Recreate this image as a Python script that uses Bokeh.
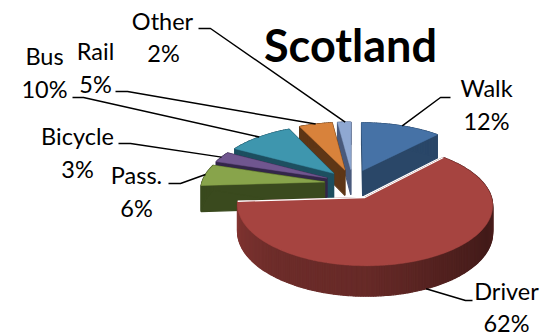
import math
from bokeh.core.properties import value
from bokeh.embed import file_html
from bokeh.models import ColumnDataSource
from bokeh.plotting import figure
from bokeh.resources import INLINE

# Travel-to-work mode shares, clockwise from twelve o'clock
modes = ["Walk", "Driver", "Pass.", "Bicycle", "Bus", "Rail", "Other"]
shares = [12, 62, 6, 3, 10, 5, 2]

# Colours for the top faces and the cut faces of each slice
top_colours = ["#4672A6", "#A64440", "#88A44B", "#70568F", "#3E96AE", "#D8823B", "#8FA8D2"]
side_colours = ["#2A4768", "#5E2825", "#3A4A1E", "#33264A", "#1D4F60", "#5E3616", "#4A5A7C"]

# Label centres (name, then percentage)
name_xy = [(486, 87), (506, 290), (136, 174), (77, 135), (44, 55), (95, 50), (162, 20)]
pct_xy = [(486, 120), (506, 322), (136, 207), (77, 168), (44, 88), (95, 83), (163, 52)]
# Leader lines: outer tip and elbow, the inner end lands on the slice's arc
leader_out = [(450, 97), (472, 300), (168, 183), (118, 143), (72, 97), (115, 91), (198, 28)]
leader_elbow = [(440, 97), (465, 300), (180, 183), (130, 143), (83, 97), (127, 91), (210, 28)]

# Rim lighting of the large slice: angle (degrees) and brightness factor
rim_angles = [43, 90, 115, 140, 180, 220, 267]
rim_light = [0.50, 0.50, 0.40, 0.47, 0.62, 0.66, 0.80]

# Projection of the exploded pie
CX, CY = 352, 183.3
RX, RY = 123, 56.5
PERSPECTIVE = 0.12
EXPLODE_X = 0.23
EXPLODE_Y = 0.26
DEPTH = 26


def project(x, y, drop=0.0):
    w = 1 + PERSPECTIVE * y
    return CX + RX * x / w, CY - RY * y / w + DEPTH * drop / w


def mix(c, f):
    r, g, b = (int(c[i:i + 2], 16) for i in (1, 3, 5))
    return "#%02x%02x%02x" % (int(r * f), int(g * f), int(b * f))


def rim_shade(angle):
    for k in range(len(rim_angles) - 1):
        if rim_angles[k] <= angle <= rim_angles[k + 1]:
            f = (angle - rim_angles[k]) / (rim_angles[k + 1] - rim_angles[k])
            return rim_light[k] + f * (rim_light[k + 1] - rim_light[k])
    return rim_light[-1]


spans = []
start = 0.0
for s in shares:
    spans.append((start, start + s * 3.6))
    start += s * 3.6


def slice_geometry(a0, a1):
    mid = math.radians((a0 + a1) / 2)
    ox, oy = EXPLODE_X * math.sin(mid), EXPLODE_Y * math.cos(mid)
    steps = max(3, int(a1 - a0))
    arc = [a0 + (a1 - a0) * i / steps for i in range(steps + 1)]
    rim = [(ox + math.sin(math.radians(t)), oy + math.cos(math.radians(t))) for t in arc]
    return (ox, oy), rim, arc


p = figure(width=541, height=335, x_range=(0, 541), y_range=(335, 0),
           output_backend="svg", toolbar_location=None, min_border=0,
           outline_line_color=None, background_fill_color="white")
p.axis.visible = False
p.grid.visible = False

paint_order = [0, 6, 5, 4, 3, 2, 1]
for i in paint_order:
    a0, a1 = spans[i]
    apex, rim, arc = slice_geometry(a0, a1)
    xs, ys, cols = [], [], []

    def quad(u, v, colour):
        pts = [project(*u), project(*v), project(*v, 1), project(*u, 1)]
        xs.append([q[0] for q in pts])
        ys.append([q[1] for q in pts])
        cols.append(colour)

    quad(apex, rim[0], side_colours[i])
    quad(apex, rim[-1], side_colours[i])
    for j in range(len(rim) - 1):
        t = (arc[j] + arc[j + 1]) / 2
        quad(rim[j], rim[j + 1], mix(top_colours[1], rim_shade(t)) if i == 1 else side_colours[i])
    p.patches(xs, ys, fill_color=cols, line_color=cols, line_width=1.2)

    outline = [project(*apex)] + [project(*q) for q in rim]
    p.patch([q[0] for q in outline], [q[1] for q in outline], fill_color=top_colours[i],
            line_color=top_colours[i], line_width=0.5)
    if i == 1:
        # A pale edge separates the large slice's cut sides from what lies behind
        cut = [project(*rim[0]), project(*apex), project(*rim[-1])]
        p.line([q[0] for q in cut], [q[1] for q in cut], line_color="white", line_width=1.3)

# Leader lines run from each label to the middle of its slice's outer arc
for i in range(len(modes)):
    a0, a1 = spans[i]
    _, rim, _ = slice_geometry(a0, a1)
    drop = 1 if i == 1 else 0
    land = project(*rim[len(rim) // 2], drop)
    p.line([leader_out[i][0], leader_elbow[i][0], land[0]],
           [leader_out[i][1], leader_elbow[i][1], land[1]],
           line_color="black", line_width=1.5)

font = value("Lato")
label_src = ColumnDataSource(dict(
    x=[q[0] for q in name_xy] + [q[0] for q in pct_xy],
    y=[q[1] for q in name_xy] + [q[1] for q in pct_xy],
    text=modes + [f"{s}%" for s in shares],
))
p.text("x", "y", "text", source=label_src, text_font=font, text_font_size="23.5px",
       text_align="center", text_baseline="middle", text_color="black")
p.text([350], [44], ["Scotland"], text_font=font, text_font_size="45px", text_font_style="bold",
       text_align="center", text_baseline="middle", text_color="black")

open("out.html", "w").write(file_html(p, INLINE))
